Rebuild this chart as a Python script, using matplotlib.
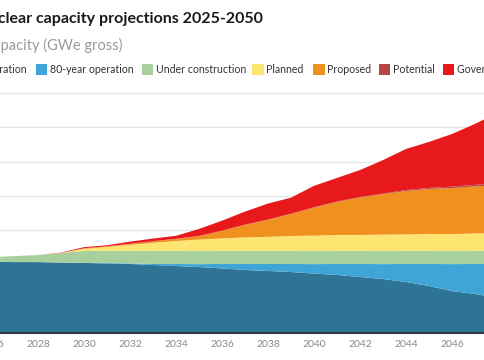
import matplotlib
matplotlib.use("Agg")
import matplotlib.pyplot as plt
from matplotlib.patches import Rectangle

plt.rcParams['font.family'] = ['Lato', 'DejaVu Sans']

years = list(range(2025, 2051))
op60 = [418, 417, 415, 415, 412, 410, 407, 404, 398, 392, 386, 378, 369, 363, 357, 348,
        340, 328, 316, 299, 276, 246, 229, 206, 188, 171]
op80 = [0, 0, 0, 0, 0, 0, 3, 3, 6, 12, 17, 26, 35, 41, 47, 55,
        64, 76, 87, 105, 128, 157, 175, 198, 216, 233]
construction = [23, 27, 35, 41, 55, 70, 70, 73, 76, 76, 76, 76, 76, 76, 76, 76,
                76, 76, 76, 76, 76, 76, 76, 76, 76, 76]
planned = [0, 0, 0, 0, 1, 12, 23, 35, 47, 58, 67, 73, 79, 82, 87, 90,
           93, 93, 96, 96, 99, 99, 102, 102, 105, 105]
proposed = [0, 0, 0, 0, 0, 3, 3, 6, 9, 12, 20, 44, 73, 99, 128, 163,
            192, 218, 236, 253, 262, 268, 274, 280, 283, 285]
potential = [0, 0, 0, 0, 0, 1, 1, 1, 1, 1, 1, 1, 1, 2, 2, 2,
             3, 3, 3, 6, 6, 9, 9, 12, 12, 12]
government = [0, 0, 0, 0, 2, 6, 6, 12, 15, 17, 41, 58, 76, 93, 93, 125,
              137, 157, 195, 239, 268, 306, 355, 411, 469, 524]

labels = ["60-year operation", "80-year operation", "Under construction", "Planned",
          "Proposed", "Potential", "Government targets"]
colors = ["#2e7595", "#3fa5d7", "#a8cf9e", "#fee572", "#f0911f", "#b94444", "#e8191b"]
xticks = list(range(2026, 2051, 2))

W, H = 485, 360
fig = plt.figure(figsize=(W / 100, H / 100), dpi=100)

def fx(px):
    return px / W

def fy(py):
    return 1 - py / H

x0 = -31.0
x1 = x0 + 25 * 23.0
ybase = 333.3
ytop = 93.0
ax = fig.add_axes([fx(x0), fy(ybase), fx(x1) - fx(x0), (ybase - ytop) / H])
ax.stackplot(years, op60, op80, construction, planned, proposed, potential, government,
             colors=colors, linewidth=0)
ax.set_xlim(2025, 2050)
ax.set_ylim(0, 1400)
ax.set_yticks(range(0, 1401, 200))
ax.yaxis.grid(True, color="#e6e6e6", linewidth=1.0)
ax.set_axisbelow(True)
ax.tick_params(axis='y', length=0, labelleft=False)
ax.set_xticks(xticks)
ax.tick_params(axis='x', length=0, colors="#8a8a8a", labelsize=7.5, pad=5)
for s in ["top", "right", "left"]:
    ax.spines[s].set_visible(False)
ax.spines["bottom"].set_color("#333a40")
ax.spines["bottom"].set_linewidth(1.5)

# Title and subtitle
fig.text(fx(263), fy(19), "Global nuclear capacity projections 2025-2050", ha='right', va='center',
         fontsize=11.5, fontweight='bold', color="#1a1a1a")
fig.text(fx(123), fy(45), "Nuclear capacity (GWe gross)", ha='right', va='center',
         fontsize=10.5, color="#9a9a9a")

# Legend
patch_x = [-70, 36, 142, 252, 313, 379, 443]
ly = 69.5
ps = 11.5
for i, (lab, c) in enumerate(zip(labels, colors)):
    px = patch_x[i]
    fig.add_artist(Rectangle((fx(px), fy(ly + ps / 2)), ps / W, ps / H,
                             transform=fig.transFigure, facecolor=c, edgecolor='none'))
    if i == 0:
        fig.text(fx(27), fy(ly), lab, ha='right', va='center', fontsize=7.6, color="#333333")
    else:
        fig.text(fx(px + ps + 2.5), fy(ly), lab, ha='left', va='center', fontsize=7.6, color="#333333")

fig.savefig("out.png", dpi=100, facecolor="white")
